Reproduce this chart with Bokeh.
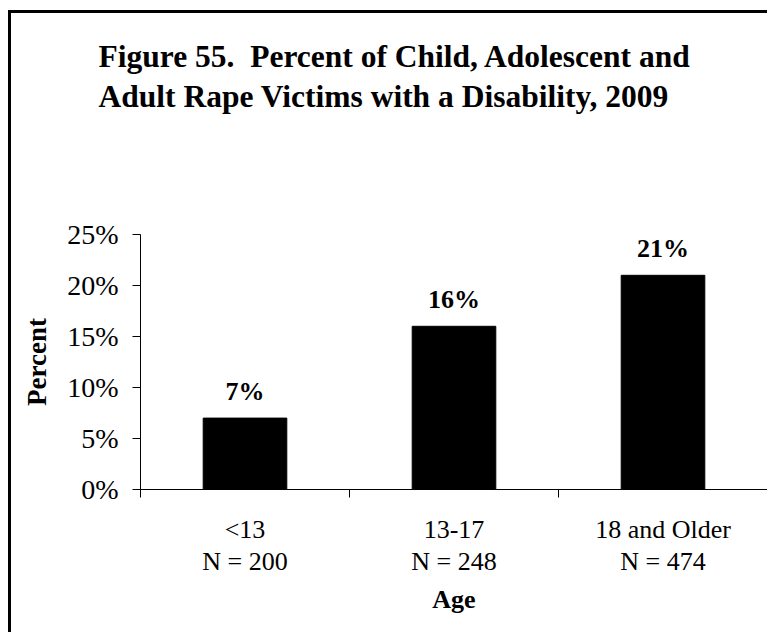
import numpy as np
from bokeh.plotting import figure
from bokeh.models import (Range1d, FixedTicker, PrintfTickFormatter, LinearAxis,
                          ColumnDataSource, LabelSet, Title)
from bokeh.embed import file_html
from bokeh.resources import INLINE

# ---- data ----
categories = ["<13", "13-17", "18 and Older"]
n_counts = [200, 248, 474]
percents = [7, 16, 21]
y_ticks = [0, 5, 10, 15, 20, 25]
title_lines = ["Figure 55.\u00a0 Percent of Child, Adolescent and",
               "Adult Rape Victims with a Disability, 2009"]
x_title = "Age"
y_title = "Percent"

FONT = "Liberation Serif"

xs = np.arange(len(categories)) + 0.5
bounds = np.arange(len(categories) + 1)

src = ColumnDataSource(dict(x=xs, top=percents, label=[f"{v}%" for v in percents]))

p = figure(width=759, height=622, output_backend="svg", toolbar_location=None,
           x_range=Range1d(0, len(categories)), y_range=Range1d(0, 25),
           min_border_left=129, min_border_right=3, min_border_top=221,
           min_border_bottom=146, x_axis_type=None, y_axis_type=None)
p.outline_line_color = None
p.background_fill_color = "white"
p.border_fill_color = "white"
# outer chart frame (its right and bottom edges fall outside the picture)
p.styles = {"border-left": "3px solid black", "border-top": "3px solid black",
            "margin-left": "8px", "margin-top": "10px"}

p.title.text = ""

# blank spacer between the plot area and the title
spacer = Title(text=" ", text_font_size="1px", text_color="white", standoff=112)
p.add_layout(spacer, "above")

main_title = Title(text="\n".join(title_lines), align="left", offset=-42, standoff=10,
                   text_font=FONT, text_font_size="31.5px", text_font_style="bold",
                   text_color="black", text_line_height=1.17)
p.add_layout(main_title, "above")

xaxis = LinearAxis(
    ticker=FixedTicker(ticks=list(xs), minor_ticks=list(bounds)),
    major_label_overrides={float(x): f"{c}\nN = {n}" for x, c, n in zip(xs, categories, n_counts)},
    major_tick_line_color=None, major_tick_in=0, major_tick_out=0,
    minor_tick_in=0, minor_tick_out=8, minor_tick_line_color="black",
    major_label_standoff=17, major_label_text_font=FONT,
    major_label_text_font_size="26px", major_label_text_color="black",
    major_label_text_line_height=1.12,
    axis_label=x_title, axis_label_text_font=FONT, axis_label_text_font_style="bold",
    axis_label_text_font_size="26px", axis_label_text_color="black",
    axis_label_standoff=6, axis_line_color="black")
p.add_layout(xaxis, "below")

yaxis = LinearAxis(
    ticker=FixedTicker(ticks=y_ticks, minor_ticks=[]),
    formatter=PrintfTickFormatter(format="%d%%"),
    major_tick_in=0, major_tick_out=8, minor_tick_line_color=None,
    major_label_standoff=14, major_label_text_font=FONT,
    major_label_text_font_size="28px", major_label_text_color="black",
    axis_label=y_title, axis_label_text_font=FONT, axis_label_text_font_style="bold",
    axis_label_text_font_size="27px", axis_label_text_color="black",
    axis_label_standoff=12, axis_line_color="black")
p.add_layout(yaxis, "left")

p.vbar(x="x", top="top", bottom=0, width=0.4, source=src,
       fill_color="black", line_color="black")

labels = LabelSet(x="x", y="top", text="label", source=src, y_offset=18,
                  text_align="center", text_baseline="alphabetic",
                  text_font=FONT, text_font_size="26px", text_font_style="bold",
                  text_color="black")
p.add_layout(labels)

open("out.html", "w").write(file_html(p, INLINE))
